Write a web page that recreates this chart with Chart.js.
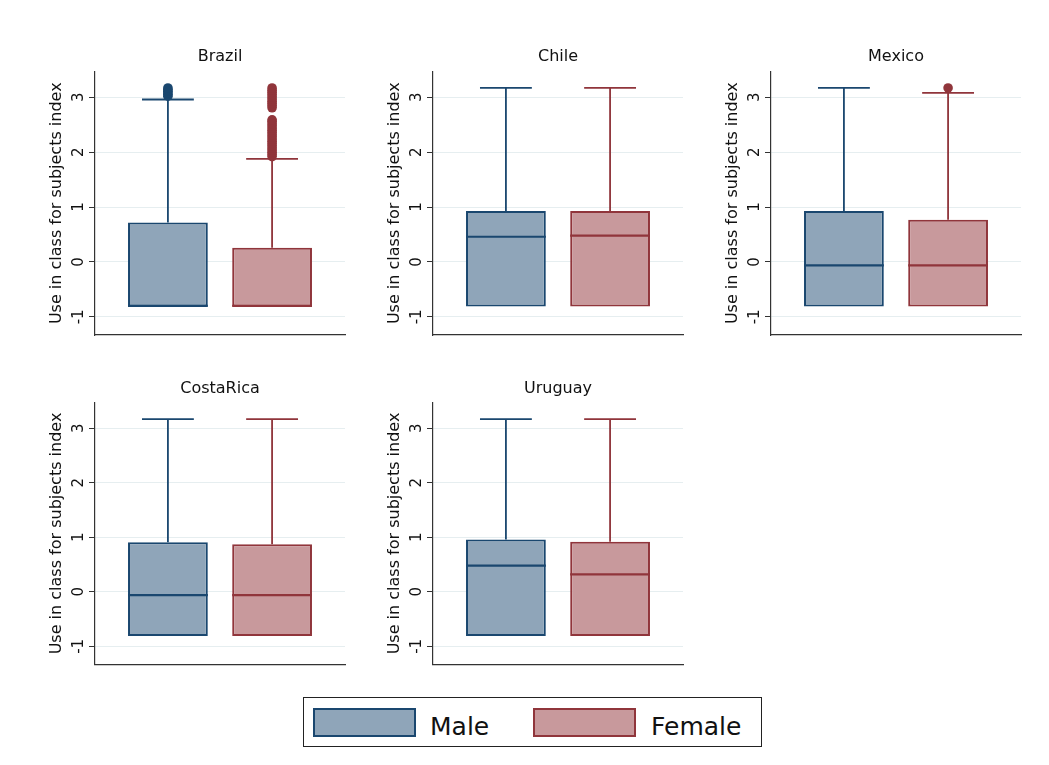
<!DOCTYPE html>
<html>
<head>
<meta charset="utf-8">
<script src="https://cdn.jsdelivr.net/npm/chart.js@4.4.0/dist/chart.umd.min.js"></script>
<style>
  html, body { margin: 0; padding: 0; background: #fff; overflow: hidden; width: 1049px; height: 765px; }
  canvas { position: absolute; }
  #legend { position: absolute; left: 303px; top: 697px; width: 459px; height: 50px; box-sizing: border-box; border: 1.5px solid #222; }
  #legend .sw { position: absolute; top: 10px; width: 99px; height: 25px; border: 2px solid; }
  #legend .lb { position: absolute; top: 16px; font-family: 'DejaVu Sans', sans-serif; font-size: 25px; line-height: 25px; color: #111; white-space: nowrap; }
</style>
</head>
<body>
<div id="legend"></div>
<script>
// ---------------- data ----------------
const countries = ['Brazil', 'Chile', 'Mexico', 'CostaRica', 'Uruguay'];
const groups = ['Male', 'Female'];
const groupX = [0, 1];
const yTicks = [-1, 0, 1, 2, 3];
const yTitle = 'Use in class for subjects index';

const loMale    = [-0.81, -0.81, -0.81, -0.81, -0.81];
const loFemale  = [-0.81, -0.81, -0.81, -0.81, -0.81];
const q1Male    = [-0.81, -0.81, -0.81, -0.81, -0.81];
const q1Female  = [-0.81, -0.81, -0.81, -0.81, -0.81];
const medMale   = [-0.80, 0.46, -0.06, -0.06, 0.48];
const medFemale = [-0.80, 0.48, -0.06, -0.06, 0.32];
const q3Male    = [0.72, 0.93, 0.93, 0.91, 0.96];
const q3Female  = [0.26, 0.93, 0.77, 0.875, 0.92];
const hiMale    = [2.96, 3.17, 3.17, 3.17, 3.17];
const hiFemale  = [1.88, 3.17, 3.08, 3.17, 3.17];
const outMale = [
  [3.02, 3.05, 3.08, 3.11, 3.14, 3.17],
  [], [], [], []
];
const outFemale = [
  [1.92, 1.96, 2.00, 2.04, 2.08, 2.12, 2.16, 2.20, 2.24, 2.28, 2.32, 2.36, 2.40, 2.44, 2.48, 2.52, 2.56, 2.59,
   2.81, 2.85, 2.89, 2.93, 2.97, 3.01, 3.05, 3.09, 3.13, 3.17],
  [], [3.17], [], []
];

// ---------------- styling ----------------
const fillColors = ['#8fa5b9', '#c8999c'];
const lineColors = ['#1a476f', '#90353b'];
const axisColor = '#333';
const gridColor = '#e6eef0';
const FONT = "'DejaVu Sans', sans-serif";

const colLeft = [40, 378, 716];
const rowTop = [30, 360];
const canvasW = 360, canvasH = 320;
const axisW = 55, rightW = 55;
const chartTop = [71.5, 402.7];
const chartBottom = [335, 664.3];
const titleCapCenter = [56.9, 389];

Chart.defaults.font.family = FONT;
Chart.defaults.color = '#111';

function boxExtras(i) {
  const lo = [loMale[i], loFemale[i]];
  const hi = [hiMale[i], hiFemale[i]];
  const med = [medMale[i], medFemale[i]];
  const q1 = [q1Male[i], q1Female[i]];
  const q3 = [q3Male[i], q3Female[i]];
  return {
    id: 'boxExtras' + i,
    beforeDatasetsDraw(chart) {
      const { ctx, scales: { x, y } } = chart;
      const bars = chart.getDatasetMeta(0).data;
      ctx.save();
      ctx.lineWidth = 1.8;
      bars.forEach((bar, j) => {
        const cx = x.getPixelForValue(groupX[j]);
        const capHalf = bar.width * 0.65 / 2;
        ctx.strokeStyle = lineColors[j];
        ctx.beginPath();
        // upper whisker
        ctx.moveTo(cx, y.getPixelForValue(q3[j]));
        ctx.lineTo(cx, y.getPixelForValue(hi[j]));
        ctx.moveTo(cx - capHalf, y.getPixelForValue(hi[j]));
        ctx.lineTo(cx + capHalf, y.getPixelForValue(hi[j]));
        // lower whisker
        ctx.moveTo(cx, y.getPixelForValue(q1[j]));
        ctx.lineTo(cx, y.getPixelForValue(lo[j]));
        ctx.stroke();
      });
      ctx.restore();
    },
    afterDatasetsDraw(chart) {
      const { ctx, scales: { x, y } } = chart;
      const bars = chart.getDatasetMeta(0).data;
      ctx.save();
      ctx.lineWidth = 2.2;
      bars.forEach((bar, j) => {
        const cx = x.getPixelForValue(groupX[j]);
        const half = bar.width / 2;
        const py = y.getPixelForValue(med[j]);
        ctx.strokeStyle = lineColors[j];
        ctx.beginPath();
        ctx.moveTo(cx - half, py);
        ctx.lineTo(cx + half, py);
        ctx.stroke();
      });
      ctx.restore();
    }
  };
}

function makeChart(i) {
  const col = i % 3, row = Math.floor(i / 3);
  const canvas = document.createElement('canvas');
  canvas.width = canvasW;
  canvas.height = canvasH;
  canvas.style.left = colLeft[col] + 'px';
  canvas.style.top = rowTop[row] + 'px';
  canvas.style.width = canvasW + 'px';
  canvas.style.height = canvasH + 'px';
  document.body.appendChild(canvas);

  const xAxisH = 12;
  const padBottom = canvasH - (chartBottom[row] - rowTop[row]) - xAxisH;
  const titleLH = 16 * 1.2;
  const tPadTop = titleCapCenter[row] - rowTop[row] - titleLH / 2;
  const tPadBottom = chartTop[row] - rowTop[row] - tPadTop - titleLH;

  new Chart(canvas, {
    type: 'bar',
    data: {
      datasets: [
        {
          type: 'bar',
          label: 'box',
          data: [
            { x: groupX[0], y: [q1Male[i], q3Male[i]] },
            { x: groupX[1], y: [q1Female[i], q3Female[i]] }
          ],
          backgroundColor: fillColors,
          borderColor: lineColors,
          borderWidth: 2,
          borderSkipped: false,
          barPercentage: 0.766,
          categoryPercentage: 1.0,
          order: 2
        },
        {
          type: 'scatter',
          label: groups[0] + ' outliers',
          data: outMale[i].map(v => ({ x: groupX[0], y: v })),
          backgroundColor: lineColors[0],
          borderColor: lineColors[0],
          pointRadius: 4.8,
          pointBorderWidth: 0,
          order: 1
        },
        {
          type: 'scatter',
          label: groups[1] + ' outliers',
          data: outFemale[i].map(v => ({ x: groupX[1], y: v })),
          backgroundColor: lineColors[1],
          borderColor: lineColors[1],
          pointRadius: 4.8,
          pointBorderWidth: 0,
          order: 1
        }
      ]
    },
    options: {
      responsive: false,
      animation: false,
      events: [],
      layout: { padding: { left: 0, right: 0, top: 0, bottom: padBottom } },
      plugins: {
        legend: { display: false },
        tooltip: { enabled: false },
        title: {
          display: true,
          text: countries[i],
          font: { family: FONT, size: 16, weight: 'normal', lineHeight: 1.2 },
          color: '#111',
          padding: { top: tPadTop, bottom: tPadBottom }
        }
      },
      scales: {
        x: {
          type: 'linear',
          position: 'bottom',
          offset: false,
          min: -0.7,
          max: 1.7,
          afterBuildTicks: s => { s.ticks = groupX.map(v => ({ value: v })); },
          afterFit: s => { s.height = xAxisH; },
          ticks: { display: false },
          grid: { display: false, offset: false },
          border: { display: true, color: axisColor, width: 1.2 }
        },
        y: {
          type: 'linear',
          position: 'left',
          min: -1.33,
          max: 3.47,
          afterBuildTicks: s => { s.ticks = yTicks.map(v => ({ value: v })); },
          afterFit: s => { s.width = axisW; },
          ticks: {
            font: { family: FONT, size: 15 },
            color: '#111',
            minRotation: 90,
            maxRotation: 90,
            crossAlign: 'center',
            padding: 2,
            callback: v => String(v)
          },
          grid: { display: true, color: gridColor, lineWidth: 1, drawTicks: true, tickLength: 6, tickColor: axisColor, tickWidth: 1 },
          border: { display: true, color: axisColor, width: 1.2 },
          title: {
            display: true,
            text: yTitle,
            font: { family: FONT, size: 16, lineHeight: 1.2 },
            color: '#111',
            padding: { top: 7.5, bottom: 0 }
          }
        },
        yR: {
          type: 'linear',
          position: 'right',
          display: true,
          afterFit: s => { s.width = rightW; },
          ticks: { display: false },
          grid: { display: false },
          border: { display: false }
        }
      }
    },
    plugins: [boxExtras(i)]
  });
}

countries.forEach((c, i) => makeChart(i));

// ---------------- legend ----------------
const legend = document.getElementById('legend');
const swLeft = [9, 229];
const lbLeft = [126, 347];
groups.forEach((g, j) => {
  const sw = document.createElement('div');
  sw.className = 'sw';
  sw.style.left = swLeft[j] + 'px';
  sw.style.background = fillColors[j];
  sw.style.borderColor = lineColors[j];
  legend.appendChild(sw);
  const lb = document.createElement('div');
  lb.className = 'lb';
  lb.style.left = lbLeft[j] + 'px';
  lb.textContent = g;
  legend.appendChild(lb);
});
</script>
</body>
</html>
